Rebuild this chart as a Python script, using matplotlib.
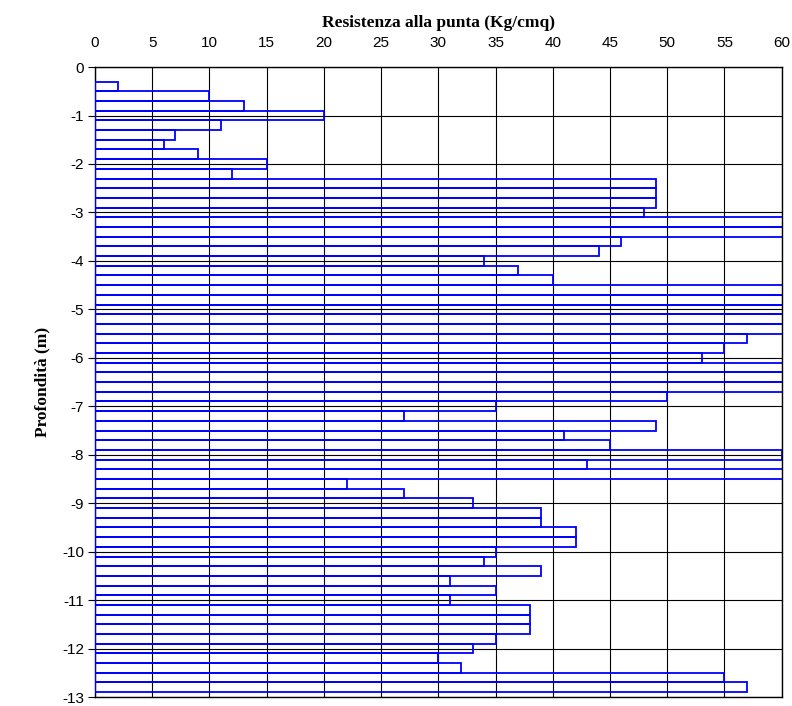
import numpy as np
import matplotlib.pyplot as plt

plt.rcParams['axes.unicode_minus'] = False

# profondità (centro di ogni tratto da 20 cm) e resistenza alla punta
profondita = -np.round(np.arange(2, 65) * 0.2, 1)
resistenza = [2, 10, 13, 20, 11, 7, 6, 9, 15, 12,
              49, 49, 49, 48, 65, 65, 46, 44, 34, 37,
              40, 65, 65, 65, 65, 65, 57, 55, 53, 65,
              65, 65, 50, 35, 27, 49, 41, 45, 60, 43,
              65, 22, 27, 33, 39, 39, 42, 42, 35, 34,
              39, 31, 35, 31, 38, 38, 38, 35, 33, 30,
              32, 55, 57]

xticks = np.arange(0, 61, 5)
yticks = np.arange(0, -14, -1)

fig = plt.figure(figsize=(7.92, 7.06), dpi=100)
ax = fig.add_axes([0.12, 0.0127, 0.867, 0.8923])

ax.barh(profondita, resistenza, height=0.2, fill=False,
        edgecolor='#0000ff', linewidth=1.3, zorder=3)

ax.set_xlim(0, 60)
ax.set_ylim(-13, 0)
ax.set_xticks(xticks)
ax.set_yticks(yticks)
ax.set_yticklabels([str(v) for v in yticks])
ax.xaxis.tick_top()
ax.xaxis.set_label_position('top')

ax.grid(True, color='black', linewidth=0.8, zorder=1)
ax.set_axisbelow(True)
for s in ax.spines.values():
    s.set_linewidth(1.0)

ax.tick_params(axis='x', length=0, pad=12, labelsize=11)
ax.tick_params(axis='y', length=5, width=0.8, direction='out', pad=3, labelsize=11)
for lab in ax.get_xticklabels() + ax.get_yticklabels():
    lab.set_fontfamily('Liberation Sans')

ax.set_xlabel('Resistenza alla punta (Kg/cmq)', fontfamily='Liberation Serif',
              fontweight='bold', fontsize=12.5, labelpad=7)
ax.set_ylabel('Profondità (m)', fontfamily='Liberation Serif',
              fontweight='bold', fontsize=12.5, labelpad=8)

fig.savefig('out.png', dpi=100)
